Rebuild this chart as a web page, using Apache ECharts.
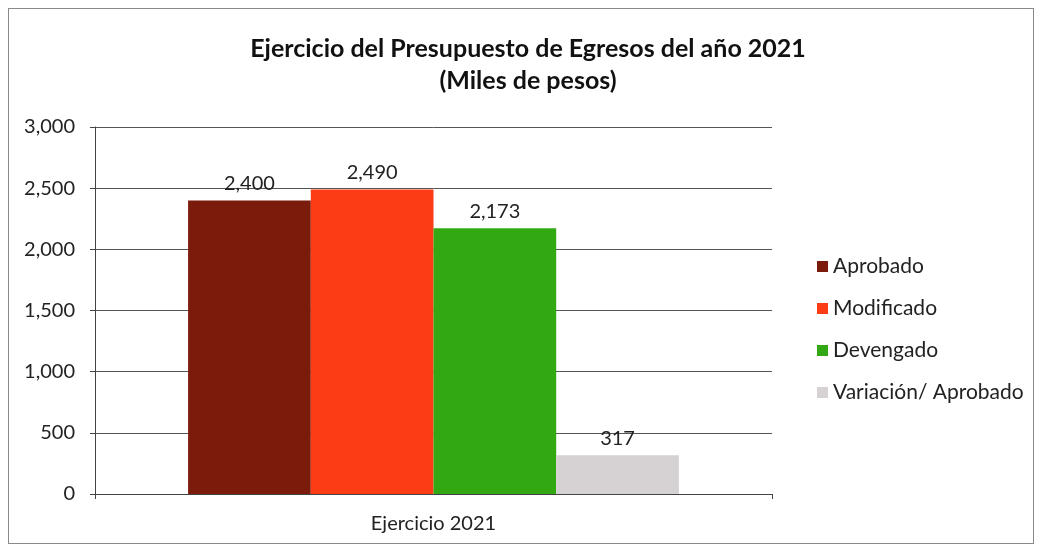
<!DOCTYPE html>
<html>
<head>
<meta charset="utf-8">
<script src="https://cdn.jsdelivr.net/npm/echarts@6/dist/echarts.min.js"></script>
<style>
  html, body { margin: 0; padding: 0; background: #fff; }
  #frame { position: absolute; left: 8px; top: 8px; width: 1026px; height: 536px; border: 1px solid #8a8a8a; box-sizing: border-box; }
  #chart { position: absolute; left: 0; top: 0; width: 1041px; height: 553px; }
</style>
</head>
<body>
<div id="frame"></div>
<div id="chart"></div>
<script>
// datos
const categories = ['Ejercicio 2021']
const seriesNames = ['Aprobado', 'Modificado', 'Devengado', 'Variación/ Aprobado']
const seriesValues = [[2400], [2490], [2173], [317]]
const seriesColors = ['#7a1b0c', '#fb3c14', '#32a812', '#d6d2d3']
const yTicks = [0, 500, 1000, 1500, 2000, 2500, 3000]

const chart = echarts.init(document.getElementById('chart'))
const fontFamily = 'Lato, "Open Sans", sans-serif'

const option = {
  animation: false,
  title: {
    text: 'Ejercicio del Presupuesto de Egresos del año 2021\n(Miles de pesos)',
    left: 523,
    textAlign: 'center',
    top: 28,
    textStyle: {
      fontFamily: fontFamily,
      fontWeight: 'bold',
      fontSize: 25,
      lineHeight: 32,
      color: '#111'
    }
  },
  legend: {
    orient: 'vertical',
    left: 812,
    top: 251,
    itemWidth: 11,
    itemHeight: 11,
    itemGap: 21,
    icon: 'rect',
    textStyle: { fontFamily: fontFamily, fontSize: 21, color: '#222' },
    data: seriesNames
  },
  grid: { left: 95, right: 269, top: 127, bottom: 59 },
  xAxis: {
    type: 'category',
    data: categories,
    axisLine: { lineStyle: { color: '#444', width: 1 } },
    axisTick: { show: true, alignWithLabel: false, length: 5, lineStyle: { color: '#444' } },
    axisLabel: { fontFamily: fontFamily, fontSize: 20, color: '#222', margin: 20 }
  },
  yAxis: {
    type: 'value',
    min: 0,
    max: 3000,
    interval: 500,
    axisLine: { show: true, lineStyle: { color: '#444', width: 1 } },
    axisTick: { show: true, length: 5, lineStyle: { color: '#444' } },
    splitLine: { lineStyle: { color: '#555', width: 1 } },
    axisLabel: {
      fontFamily: fontFamily,
      fontSize: 20,
      color: '#222',
      margin: 20,
      formatter: function (v) { return yTicks.indexOf(v) >= 0 ? v.toLocaleString('en-US') : '' }
    }
  },
  series: seriesNames.map(function (name, i) {
    return {
      name: name,
      type: 'bar',
      data: seriesValues[i],
      barGap: '0%',
      barCategoryGap: '27.5%',
      itemStyle: { color: seriesColors[i] },
      label: {
        show: true,
        position: 'top',
        distance: 7,
        fontFamily: fontFamily,
        fontSize: 20,
        color: '#222',
        formatter: function (p) { return p.value.toLocaleString('en-US') }
      }
    }
  })
}
chart.setOption(option)
</script>
</body>
</html>
